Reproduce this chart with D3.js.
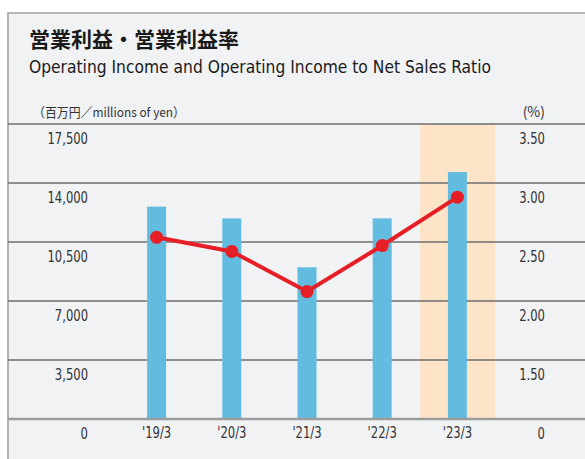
<!DOCTYPE html>
<html>
<head>
<meta charset="utf-8">
<script src="https://cdn.jsdelivr.net/npm/d3@7"></script>
<style>
  html, body { margin: 0; padding: 0; background: #ffffff; }
  svg { display: block; }
  .narrow { font-family: "Liberation Sans Narrow", "DejaVu Sans Condensed", "Liberation Sans", sans-serif; }
</style>
</head>
<body>
<script>
// Operating income (bars, millions of yen) and ratio to net sales (line, %)
var years = ["'19/3", "'20/3", "'21/3", "'22/3", "'23/3"];
var incomeValues = [12600, 11900, 9000, 11900, 14650];
var ratioValues = [2.54, 2.42, 2.08, 2.47, 2.88];
var incomeTicks = [0, 3500, 7000, 10500, 14000, 17500];
var ratioTicks = [1.0, 1.5, 2.0, 2.5, 3.0, 3.5]; /* broken axis, bottom one is shown as 0 */
var highlightYear = "'23/3";

var width = 585, height = 459;
var plotTop = 124, plotBottom = 419;

var svg = d3.select('body')
  .append('svg')
  .attr('width', width)
  .attr('height', height);

// Panel background and border
svg.append('rect')
  .attr('x', 8).attr('y', 13)
  .attr('width', width).attr('height', height)
  .attr('fill', '#f1f2f4');
svg.append('path')
  .attr('d', 'M8,' + (height + 2) + ' V13 H' + (width + 2))
  .attr('fill', 'none')
  .attr('stroke', '#a0a0a0')
  .attr('stroke-width', 1.6);

// Titles
svg.append('text')
  .attr('x', 29).attr('y', 47)
  .attr('font-family', '"Noto Sans CJK JP", sans-serif')
  .attr('font-weight', 'bold')
  .attr('font-size', 21)
  .attr('fill', '#1a1a1a')
  .text('営業利益・営業利益率');

svg.append('text')
  .attr('class', 'narrow')
  .attr('x', 29).attr('y', 73)
  .attr('font-size', 18)
  .attr('fill', '#1a1a1a')
  .attr('textLength', 462)
  .attr('lengthAdjust', 'spacingAndGlyphs')
  .text('Operating Income and Operating Income to Net Sales Ratio');

// Unit labels
svg.append('text')
  .attr('x', 33).attr('y', 117)
  .attr('font-family', '"Noto Sans CJK JP", sans-serif')
  .attr('font-size', 13)
  .attr('fill', '#333')
  .attr('textLength', 152)
  .attr('lengthAdjust', 'spacingAndGlyphs')
  .text('（百万円／millions of yen）');

svg.append('text')
  .attr('x', 545).attr('y', 117)
  .attr('text-anchor', 'end')
  .attr('font-family', '"Noto Sans CJK JP", sans-serif')
  .attr('font-size', 14)
  .attr('fill', '#333')
  .text('(%)');

// Scales
var x = d3.scaleBand().domain(years).range([119, 495]).padding(0);
var yLeft = d3.scaleLinear().domain([0, 17500]).range([plotBottom, plotTop]);
var yRight = d3.scaleLinear().domain([1.0, 3.5]).range([plotBottom, plotTop]);
var barWidth = 19;

// Highlight band for the latest year
svg.append('rect')
  .attr('x', x(highlightYear))
  .attr('y', plotTop)
  .attr('width', x.bandwidth())
  .attr('height', plotBottom - plotTop)
  .attr('fill', '#fde4c8');

// Gridlines
svg.append('g')
  .selectAll('line')
  .data(incomeTicks.filter(d => d > 0))
  .enter()
  .append('line')
  .attr('x1', 8).attr('x2', width)
  .attr('y1', d => yLeft(d)).attr('y2', d => yLeft(d))
  .attr('stroke', '#6e6e6e')
  .attr('stroke-width', 1.3);

// Bars
svg.append('g')
  .selectAll('rect')
  .data(incomeValues)
  .enter()
  .append('rect')
  .attr('x', (d, i) => x(years[i]) + x.bandwidth() / 2 - barWidth / 2)
  .attr('y', d => yLeft(d))
  .attr('width', barWidth)
  .attr('height', d => plotBottom - yLeft(d))
  .attr('fill', '#62bce0');

// Baseline
svg.append('line')
  .attr('x1', 8).attr('x2', width)
  .attr('y1', yLeft(0)).attr('y2', yLeft(0))
  .attr('stroke', '#9c9c9c')
  .attr('stroke-width', 2.6);

// Ratio line
var line = d3.line()
  .x((d, i) => x(years[i]) + x.bandwidth() / 2)
  .y(d => yRight(d));

svg.append('path')
  .datum(ratioValues)
  .attr('d', line)
  .attr('fill', 'none')
  .attr('stroke', '#e61f27')
  .attr('stroke-width', 4);

svg.append('g')
  .selectAll('circle')
  .data(ratioValues)
  .enter()
  .append('circle')
  .attr('cx', (d, i) => x(years[i]) + x.bandwidth() / 2)
  .attr('cy', d => yRight(d))
  .attr('r', 6.5)
  .attr('fill', '#e61f27');

// Axes (labels sit below each gridline, squeezed to look condensed)
var styleAxis = function(g) {
  g.select('.domain').remove();
  g.selectAll('line').remove();
  g.selectAll('text')
    .attr('class', 'narrow')
    .attr('dy', null)
    .attr('font-size', 15)
    .attr('fill', '#333')
    .attr('transform', 'scale(0.86,1)');
};

svg.append('g')
  .attr('transform', 'translate(88,19)')
  .call(d3.axisLeft(yLeft).tickValues(incomeTicks).tickFormat(d3.format(',')).tickSize(0).tickPadding(0))
  .call(styleAxis);

svg.append('g')
  .attr('transform', 'translate(545,19)')
  .call(d3.axisLeft(yRight).tickValues(ratioTicks)
    .tickFormat(d => d === 1.0 ? '0' : d.toFixed(2)).tickSize(0).tickPadding(0))
  .call(styleAxis);

svg.append('g')
  .attr('transform', 'translate(0,' + (plotBottom + 19) + ')')
  .call(d3.axisBottom(x).tickSize(0).tickPadding(0))
  .call(styleAxis);
</script>
</body>
</html>
